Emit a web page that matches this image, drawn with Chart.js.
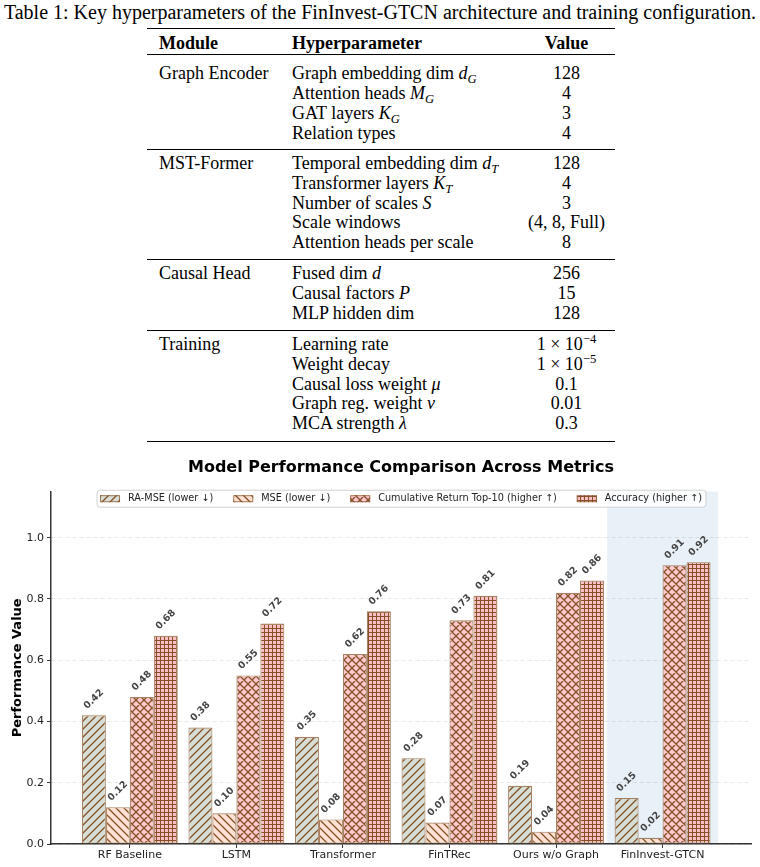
<!DOCTYPE html>
<html lang="en">
<head>
<meta charset="UTF-8">
<title>FinInvest-GTCN hyperparameters and performance</title>
<script src="https://cdn.jsdelivr.net/npm/chart.js@4/dist/chart.umd.min.js"></script>
<style>
    html, body { margin: 0; padding: 0; background: #fff; }
    body { position: relative; width: 760px; height: 867px; overflow: hidden; }
    .caption {
        position: absolute; left: 0; top: 0; width: 760px; height: 24px;
        line-height: 24px; text-align: center; white-space: nowrap;
        font-family: 'Liberation Serif', serif; font-size: 20px; color: #000;
    }
    table.hp {
        position: absolute; left: 147px; top: 27.7px; width: 468px;
        border-collapse: separate; border-spacing: 0; table-layout: fixed;
        font-family: 'Liberation Serif', serif; font-size: 18px; color: #000;
    }
    .hp td, .hp th {
        padding: 0 0 0 12px; line-height: 19.7px; text-align: left;
        white-space: nowrap; vertical-align: top; font-weight: normal;
    }
    .hp .v { text-align: center; padding-left: 0; }
    .hp thead th {
        border-top: 1.5px solid #000; border-bottom: 1px solid #000;
        padding-top: 5px; padding-bottom: 1px; font-weight: bold;
    }
    .hp tbody tr:first-child td { padding-top: var(--pt); }
    .hp tbody tr:last-child td { padding-bottom: var(--pb); border-bottom: 1px solid #000; }
    .hp tbody:last-child tr:last-child td { border-bottom-width: 1.5px; }
    .hp sub, .hp sup { font-size: 0.7em; line-height: 0; }
    .hp sub { vertical-align: -0.3em; }
    .hp sup { vertical-align: 0.55em; }
    #chartBox { position: absolute; left: 0; top: 452px; width: 760px; height: 415px; }
</style>
</head>
<body>
<div class="caption">Table 1: Key hyperparameters of the FinInvest-GTCN architecture and training configuration.</div>
<table class="hp">
    <colgroup><col style="width:133px"><col style="width:238px"><col style="width:97px"></colgroup>
    <thead>
        <tr><th>Module</th><th>Hyperparameter</th><th class="v">Value</th></tr>
    </thead>
    <tbody style="--pt:9px;--pb:6px">
        <tr><td>Graph Encoder</td><td>Graph embedding dim <i>d</i><sub><i>G</i></sub></td><td class="v">128</td></tr>
        <tr><td></td><td>Attention heads <i>M</i><sub><i>G</i></sub></td><td class="v">4</td></tr>
        <tr><td></td><td>GAT layers <i>K</i><sub><i>G</i></sub></td><td class="v">3</td></tr>
        <tr><td></td><td>Relation types</td><td class="v">4</td></tr>
    </tbody>
    <tbody style="--pt:4px;--pb:6.5px">
        <tr><td>MST-Former</td><td>Temporal embedding dim <i>d</i><sub><i>T</i></sub></td><td class="v">128</td></tr>
        <tr><td></td><td>Transformer layers <i>K</i><sub><i>T</i></sub></td><td class="v">4</td></tr>
        <tr><td></td><td>Number of scales <i>S</i></td><td class="v">3</td></tr>
        <tr><td></td><td>Scale windows</td><td class="v">(4, 8, Full)</td></tr>
        <tr><td></td><td>Attention heads per scale</td><td class="v">8</td></tr>
    </tbody>
    <tbody style="--pt:4px;--pb:7px">
        <tr><td>Causal Head</td><td>Fused dim <i>d</i></td><td class="v">256</td></tr>
        <tr><td></td><td>Causal factors <i>P</i></td><td class="v">15</td></tr>
        <tr><td></td><td>MLP hidden dim</td><td class="v">128</td></tr>
    </tbody>
    <tbody style="--pt:4px;--pb:7.5px">
        <tr><td>Training</td><td>Learning rate</td><td class="v">1 × 10<sup>−4</sup></td></tr>
        <tr><td></td><td>Weight decay</td><td class="v">1 × 10<sup>−5</sup></td></tr>
        <tr><td></td><td>Causal loss weight <i>μ</i></td><td class="v">0.1</td></tr>
        <tr><td></td><td>Graph reg. weight <i>ν</i></td><td class="v">0.01</td></tr>
        <tr><td></td><td>MCA strength <i>λ</i></td><td class="v">0.3</td></tr>
    </tbody>
</table>
<div id="chartBox"><canvas id="perfChart" width="760" height="415"></canvas></div>
<script>
    // данные
    const categories = ['RF Baseline', 'LSTM', 'Transformer', 'FinTRec', 'Ours w/o Graph', 'FinInvest-GTCN'];
    const seriesNames = ['RA-MSE (lower ↓)', 'MSE (lower ↓)', 'Cumulative Return Top-10 (higher ↑)', 'Accuracy (higher ↑)'];
    const raMse = [0.42, 0.38, 0.35, 0.28, 0.19, 0.15];
    const mse = [0.12, 0.10, 0.08, 0.07, 0.04, 0.02];
    const cumReturn = [0.48, 0.55, 0.62, 0.73, 0.82, 0.91];
    const accuracy = [0.68, 0.72, 0.76, 0.81, 0.86, 0.92];
    const yTicks = [0, 0.2, 0.4, 0.6, 0.8, 1.0];
    const highlightIndex = 5;

    const hatchColor = 'rgb(132,80,38)';
    const edgeColor = 'rgba(139,88,45,0.75)';
    const fills = ['rgb(214,222,214)', 'rgb(255,226,212)', 'rgb(255,200,206)', 'rgb(250,190,196)'];
    const hatches = ['fwd', 'back', 'cross', 'grid'];

    // штриховка как у matplotlib
    function makeHatch(bg, kind) {
        const s = kind === 'grid' ? 4 : 8;
        const c = document.createElement('canvas');
        c.width = s; c.height = s;
        const g = c.getContext('2d');
        g.fillStyle = bg;
        g.fillRect(0, 0, s, s);
        g.strokeStyle = hatchColor;
        g.lineWidth = kind === 'grid' ? 1 : 1.3;
        g.beginPath();
        if (kind === 'fwd' || kind === 'cross') {
            g.moveTo(-1, s + 1); g.lineTo(s + 1, -1);
            g.moveTo(-1, 1); g.lineTo(1, -1);
            g.moveTo(s - 1, s + 1); g.lineTo(s + 1, s - 1);
        }
        if (kind === 'back' || kind === 'cross') {
            g.moveTo(-1, -1); g.lineTo(s + 1, s + 1);
            g.moveTo(-1, s - 1); g.lineTo(1, s + 1);
            g.moveTo(s - 1, -1); g.lineTo(s + 1, 1);
        }
        if (kind === 'grid') {
            g.moveTo(0.5, 0); g.lineTo(0.5, s);
            g.moveTo(0, 0.5); g.lineTo(s, 0.5);
        }
        g.stroke();
        return g.createPattern(c, 'repeat');
    }

    const patterns = fills.map((f, i) => makeHatch(f, hatches[i]));
    const seriesValues = [raMse, mse, cumReturn, accuracy];

    // подсветка лучшей модели
    const highlightPlugin = {
        id: 'highlight',
        beforeDraw(chart) {
            const { ctx, chartArea: a, scales: { x } } = chart;
            const x0 = x.getPixelForValue(highlightIndex - 0.52);
            const x1 = x.getPixelForValue(highlightIndex + 0.52);
            ctx.save();
            ctx.fillStyle = 'rgb(232,241,248)';
            ctx.fillRect(x0, a.top, x1 - x0, a.bottom - a.top);
            ctx.restore();
        }
    };

    // подписи значений над столбцами
    const valueLabels = {
        id: 'valueLabels',
        afterDatasetsDraw(chart) {
            const ctx = chart.ctx;
            ctx.save();
            ctx.font = 'bold 9.5px "DejaVu Sans"';
            ctx.fillStyle = '#444';
            ctx.textAlign = 'center';
            ctx.textBaseline = 'middle';
            chart.data.datasets.forEach((ds, di) => {
                chart.getDatasetMeta(di).data.forEach((bar, i) => {
                    ctx.save();
                    ctx.translate(bar.x, bar.y - 16);
                    ctx.rotate(-Math.PI / 4);
                    ctx.fillText(ds.data[i].y.toFixed(2), 0, 0);
                    ctx.restore();
                });
            });
            ctx.restore();
        }
    };

    // легенда в рамке внутри области графика
    const boxLegend = {
        id: 'boxLegend',
        afterDraw(chart) {
            const { ctx, chartArea: a } = chart;
            ctx.save();
            ctx.font = '9.7px "DejaVu Sans"';
            const sw = 20, sh = 7, gap = 8, colGap = 20, pad = 3.5;
            const widths = seriesNames.map(n => sw + gap + ctx.measureText(n).width);
            const total = widths.reduce((s, w) => s + w, 0) + colGap * (widths.length - 1) + pad * 2;
            const left = (a.left + a.right) / 2 - total / 2;
            const top = a.top - 2, h = 17;
            ctx.beginPath();
            ctx.roundRect(left + 0.5, top + 0.5, total, h, 3);
            ctx.fillStyle = 'rgba(255,255,255,0.85)';
            ctx.fill();
            ctx.strokeStyle = '#d0d0d0';
            ctx.lineWidth = 1;
            ctx.stroke();
            let x = left + pad;
            const cy = top + h / 2 + 0.5;
            seriesNames.forEach((n, i) => {
                ctx.fillStyle = patterns[i];
                ctx.fillRect(x, cy - sh / 2, sw, sh);
                ctx.strokeStyle = edgeColor;
                ctx.strokeRect(x + 0.5, cy - sh / 2 + 0.5, sw - 1, sh - 1);
                ctx.fillStyle = '#222';
                ctx.textBaseline = 'middle';
                ctx.fillText(n, x + sw + gap, cy);
                x += widths[i] + colGap;
            });
            ctx.restore();
        }
    };

    new Chart(document.getElementById('perfChart'), {
        type: 'bar',
        data: {
            datasets: seriesValues.map((vals, i) => ({
                label: seriesNames[i],
                data: vals.map((v, j) => ({ x: j, y: v })),
                backgroundColor: patterns[i],
                borderColor: edgeColor,
                borderWidth: 1.1,
                borderSkipped: false,
                categoryPercentage: 0.9,
                barPercentage: 1.0
            }))
        },
        options: {
            responsive: false,
            animation: false,
            layout: { padding: { left: 0, right: 9, top: 0, bottom: 0 } },
            plugins: {
                legend: { display: false },
                tooltip: { enabled: false },
                title: {
                    display: true,
                    text: 'Model Performance Comparison Across Metrics',
                    fullSize: false,
                    color: '#000',
                    font: { family: 'DejaVu Sans', size: 16, weight: 'bold' },
                    padding: { top: 6.4, bottom: 14.1 }
                }
            },
            scales: {
                x: {
                    type: 'linear',
                    min: -0.74,
                    max: 5.83,
                    offset: false,
                    afterBuildTicks: s => { s.ticks = categories.map((_, i) => ({ value: i })); },
                    afterFit: s => { s.height = 23; },
                    ticks: {
                        callback: v => categories[v],
                        color: '#222',
                        padding: 1,
                        maxRotation: 0,
                        autoSkip: false,
                        font: { family: 'DejaVu Sans', size: 11 }
                    },
                    grid: { offset: false, drawOnChartArea: false, drawTicks: true, tickLength: 4, tickColor: '#333', tickWidth: 1 },
                    border: { display: true, color: '#333', width: 1.5 }
                },
                y: {
                    min: 0,
                    max: 1.15,
                    afterBuildTicks: s => { s.ticks = yTicks.map(v => ({ value: v })); },
                    afterFit: s => { s.width = 51; },
                    ticks: {
                        callback: v => v.toFixed(1),
                        color: '#222',
                        padding: 3,
                        font: { family: 'DejaVu Sans', size: 11 }
                    },
                    grid: { color: 'rgba(0,0,0,0.09)', tickLength: 4, tickColor: '#333', tickWidth: 1 },
                    border: { display: true, color: '#333', width: 1.5, dash: [4, 3] },
                    title: {
                        display: true,
                        text: 'Performance Value',
                        color: '#000',
                        padding: { top: 10, bottom: 0 },
                        font: { family: 'DejaVu Sans', size: 13, weight: 'bold' }
                    }
                }
            }
        },
        plugins: [highlightPlugin, valueLabels, boxLegend]
    });
</script>
</body>
</html>
